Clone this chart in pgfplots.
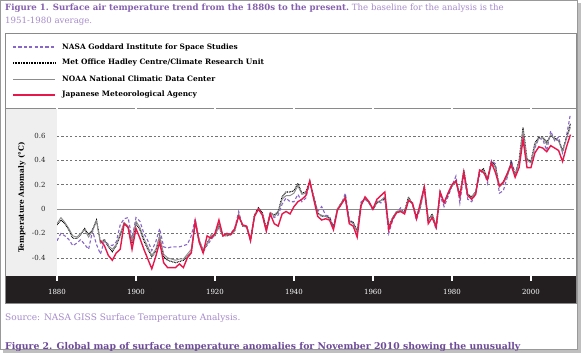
\documentclass[border=0pt]{standalone}
\usepackage{pgfplots}
\usepackage{pgfplotstable}
\pgfplotsset{compat=1.18}
\usepackage{fontspec}
\setmainfont{DejaVu Serif}
\definecolor{titlepurple}{HTML}{8560AE}
\definecolor{lightpurple}{HTML}{A68BCB}
\definecolor{darkpurple}{HTML}{6E4A9A}
\definecolor{nasa}{HTML}{8866C8}
\definecolor{noaa}{HTML}{8C8C8C}
\definecolor{jma}{HTML}{E8174B}
\definecolor{band}{HTML}{231F20}
\definecolor{panel}{HTML}{EFEFEF}
\definecolor{frame}{HTML}{8A8A8A}
\tikzset{
  nasastyle/.style={draw=nasa,line width=1.1pt,dash pattern=on 3.2pt off 2.2pt},
  hadstyle/.style={draw=black,line width=1.1pt,dash pattern=on 0.8pt off 0.8pt},
  noaastyle/.style={draw=noaa,line width=0.9pt},
  jmastyle/.style={draw=jma,line width=1.4pt},
}

\pgfplotstableread{
year val
1880 -0.26
1881 -0.20
1882 -0.22
1883 -0.25
1884 -0.30
1885 -0.28
1886 -0.25
1887 -0.29
1888 -0.33
1889 -0.18
1890 -0.29
1891 -0.37
1892 -0.26
1893 -0.29
1894 -0.30
1895 -0.27
1896 -0.13
1897 -0.08
1898 -0.07
1899 -0.24
1900 -0.07
1901 -0.10
1902 -0.20
1903 -0.26
1904 -0.34
1905 -0.27
1906 -0.16
1907 -0.31
1908 -0.32
1909 -0.31
1910 -0.31
1911 -0.31
1912 -0.30
1913 -0.29
1914 -0.22
1915 -0.08
1916 -0.26
1917 -0.33
1918 -0.30
1919 -0.25
1920 -0.21
1921 -0.15
1922 -0.22
1923 -0.21
1924 -0.20
1925 -0.16
1926 -0.02
1927 -0.14
1928 -0.14
1929 -0.26
1930 -0.06
1931 0.00
1932 -0.05
1933 -0.18
1934 -0.04
1935 -0.07
1936 -0.05
1937 0.04
1938 0.09
1939 0.06
1940 0.06
1941 0.12
1942 0.06
1943 0.09
1944 0.22
1945 0.10
1946 -0.02
1947 0.02
1948 -0.05
1949 -0.06
1950 -0.15
1951 -0.01
1952 0.04
1953 0.13
1954 -0.09
1955 -0.11
1956 -0.19
1957 0.06
1958 0.08
1959 0.05
1960 -0.01
1961 0.07
1962 0.05
1963 0.09
1964 -0.20
1965 -0.09
1966 -0.03
1967 0.01
1968 -0.04
1969 0.08
1970 0.04
1971 -0.09
1972 0.01
1973 0.16
1974 -0.09
1975 -0.06
1976 -0.17
1977 0.11
1978 0.02
1979 0.10
1980 0.19
1981 0.27
1982 0.05
1983 0.28
1984 0.08
1985 0.06
1986 0.13
1987 0.28
1988 0.32
1989 0.21
1990 0.40
1991 0.37
1992 0.13
1993 0.15
1994 0.26
1995 0.40
1996 0.29
1997 0.38
1998 0.60
1999 0.38
2000 0.38
2001 0.50
2002 0.58
2003 0.57
2004 0.48
2005 0.64
2006 0.56
2007 0.59
2008 0.46
2009 0.60
2010 0.78
}\nasatable

\pgfplotstableread{
year val
1880 -0.13
1881 -0.09
1882 -0.12
1883 -0.17
1884 -0.24
1885 -0.24
1886 -0.21
1887 -0.16
1888 -0.21
1889 -0.17
1890 -0.09
1891 -0.27
1892 -0.25
1893 -0.31
1894 -0.35
1895 -0.30
1896 -0.22
1897 -0.12
1898 -0.15
1899 -0.28
1900 -0.12
1901 -0.17
1902 -0.26
1903 -0.33
1904 -0.39
1905 -0.35
1906 -0.22
1907 -0.39
1908 -0.42
1909 -0.43
1910 -0.44
1911 -0.43
1912 -0.42
1913 -0.39
1914 -0.35
1915 -0.11
1916 -0.27
1917 -0.36
1918 -0.28
1919 -0.22
1920 -0.22
1921 -0.13
1922 -0.22
1923 -0.22
1924 -0.21
1925 -0.18
1926 -0.05
1927 -0.14
1928 -0.14
1929 -0.25
1930 -0.05
1931 0.01
1932 -0.03
1933 -0.16
1934 -0.03
1935 -0.05
1936 -0.02
1937 0.10
1938 0.14
1939 0.14
1940 0.15
1941 0.21
1942 0.13
1943 0.14
1944 0.23
1945 0.10
1946 -0.03
1947 -0.06
1948 -0.06
1949 -0.07
1950 -0.15
1951 0.00
1952 0.05
1953 0.10
1954 -0.10
1955 -0.11
1956 -0.18
1957 0.04
1958 0.09
1959 0.05
1960 0.00
1961 0.05
1962 0.07
1963 0.09
1964 -0.14
1965 -0.07
1966 -0.02
1967 -0.02
1968 -0.02
1969 0.10
1970 0.04
1971 -0.06
1972 0.02
1973 0.19
1974 -0.09
1975 -0.04
1976 -0.14
1977 0.14
1978 0.05
1979 0.12
1980 0.19
1981 0.23
1982 0.12
1983 0.32
1984 0.12
1985 0.10
1986 0.14
1987 0.31
1988 0.33
1989 0.25
1990 0.39
1991 0.35
1992 0.19
1993 0.22
1994 0.29
1995 0.38
1996 0.28
1997 0.40
1998 0.67
1999 0.41
2000 0.39
2001 0.54
2002 0.59
2003 0.59
2004 0.55
2005 0.60
2006 0.58
2007 0.56
2008 0.48
2009 0.58
2010 0.70
}\hadtable

\pgfplotstableread{
year val
1880 -0.12
1881 -0.07
1882 -0.11
1883 -0.16
1884 -0.22
1885 -0.23
1886 -0.20
1887 -0.17
1888 -0.23
1889 -0.18
1890 -0.10
1891 -0.28
1892 -0.26
1893 -0.30
1894 -0.33
1895 -0.29
1896 -0.20
1897 -0.11
1898 -0.14
1899 -0.26
1900 -0.10
1901 -0.15
1902 -0.24
1903 -0.31
1904 -0.38
1905 -0.33
1906 -0.22
1907 -0.37
1908 -0.40
1909 -0.41
1910 -0.42
1911 -0.41
1912 -0.41
1913 -0.37
1914 -0.33
1915 -0.10
1916 -0.25
1917 -0.34
1918 -0.29
1919 -0.21
1920 -0.22
1921 -0.14
1922 -0.22
1923 -0.21
1924 -0.21
1925 -0.17
1926 -0.04
1927 -0.14
1928 -0.15
1929 -0.25
1930 -0.06
1931 0.00
1932 -0.04
1933 -0.17
1934 -0.03
1935 -0.06
1936 -0.03
1937 0.08
1938 0.11
1939 0.11
1940 0.13
1941 0.19
1942 0.12
1943 0.13
1944 0.22
1945 0.10
1946 -0.04
1947 -0.05
1948 -0.06
1949 -0.08
1950 -0.16
1951 0.00
1952 0.05
1953 0.10
1954 -0.10
1955 -0.12
1956 -0.19
1957 0.04
1958 0.09
1959 0.05
1960 0.00
1961 0.06
1962 0.07
1963 0.10
1964 -0.15
1965 -0.07
1966 -0.02
1967 -0.01
1968 -0.03
1969 0.09
1970 0.04
1971 -0.07
1972 0.02
1973 0.18
1974 -0.09
1975 -0.05
1976 -0.14
1977 0.14
1978 0.05
1979 0.13
1980 0.19
1981 0.22
1982 0.10
1983 0.31
1984 0.11
1985 0.09
1986 0.14
1987 0.31
1988 0.32
1989 0.24
1990 0.38
1991 0.34
1992 0.18
1993 0.21
1994 0.27
1995 0.37
1996 0.28
1997 0.38
1998 0.64
1999 0.40
2000 0.38
2001 0.52
2002 0.58
2003 0.58
2004 0.53
2005 0.61
2006 0.57
2007 0.56
2008 0.47
2009 0.58
2010 0.67
}\noaatable

\pgfplotstableread{
year val
1891 -0.26
1892 -0.30
1893 -0.38
1894 -0.42
1895 -0.36
1896 -0.33
1897 -0.12
1898 -0.15
1899 -0.33
1900 -0.16
1901 -0.24
1902 -0.33
1903 -0.41
1904 -0.49
1905 -0.39
1906 -0.27
1907 -0.44
1908 -0.48
1909 -0.48
1910 -0.48
1911 -0.45
1912 -0.48
1913 -0.40
1914 -0.36
1915 -0.10
1916 -0.27
1917 -0.36
1918 -0.22
1919 -0.24
1920 -0.20
1921 -0.09
1922 -0.22
1923 -0.20
1924 -0.21
1925 -0.16
1926 -0.06
1927 -0.13
1928 -0.14
1929 -0.26
1930 -0.06
1931 0.00
1932 -0.05
1933 -0.18
1934 -0.04
1935 -0.12
1936 -0.14
1937 -0.04
1938 -0.02
1939 -0.04
1940 0.02
1941 0.06
1942 0.08
1943 0.11
1944 0.23
1945 0.08
1946 -0.06
1947 -0.09
1948 -0.08
1949 -0.09
1950 -0.17
1951 -0.01
1952 0.04
1953 0.09
1954 -0.12
1955 -0.14
1956 -0.23
1957 0.03
1958 0.10
1959 0.06
1960 0.00
1961 0.08
1962 0.11
1963 0.14
1964 -0.17
1965 -0.08
1966 -0.03
1967 -0.02
1968 -0.04
1969 0.07
1970 0.05
1971 -0.08
1972 0.05
1973 0.18
1974 -0.12
1975 -0.07
1976 -0.15
1977 0.14
1978 0.05
1979 0.13
1980 0.20
1981 0.23
1982 0.10
1983 0.30
1984 0.11
1985 0.08
1986 0.12
1987 0.32
1988 0.30
1989 0.24
1990 0.38
1991 0.30
1992 0.19
1993 0.22
1994 0.29
1995 0.36
1996 0.26
1997 0.34
1998 0.57
1999 0.34
2000 0.34
2001 0.46
2002 0.51
2003 0.50
2004 0.47
2005 0.52
2006 0.50
2007 0.48
2008 0.39
2009 0.51
2010 0.61
}\jmatable

\begin{document}
\begin{tikzpicture}[x=1pt,y=1pt]
\clip (0,0) rectangle (581,353);
\fill[white] (0,0) rectangle (581,353);
% outer image frame with shadow
\fill[black!25] (3,0) rectangle (581,350);
\fill[white] (0,3) rectangle (578,353);
\draw[black!40,line width=0.6pt] (0.3,3.3) rectangle (577.7,352.7);
% title
\node[anchor=base west,inner sep=0pt,font=\fontsize{8.6}{10}\selectfont,text=titlepurple] at (5,342)
 {\textbf{Figure 1. Surface air temperature trend from the 1880s to the present.}\ \textcolor{lightpurple}{The baseline for the analysis is the}};
\node[anchor=base west,inner sep=0pt,font=\fontsize{8.6}{10}\selectfont,text=lightpurple] at (5,329) {1951-1980 average.};
% chart box parts
\fill[panel] (5,77) rectangle (57,244);
\fill[band] (5,50) rectangle (576,77);
\draw[frame,line width=0.7pt] (5,50) rectangle (576,320);
\draw[frame,line width=0.7pt] (5,244.5) -- (576,244.5);
% legend
\begin{scope}[every node/.style={anchor=west,inner sep=0pt,font=\bfseries\fontsize{7.4}{8}\selectfont}]
\draw[nasastyle] (13,306) -- (55,306); \node at (62,306) {NASA Goddard Institute for Space Studies};
\draw[hadstyle] (13,290) -- (55,290); \node at (62,290) {Met Office Hadley Centre/Climate Research Unit};
\draw[noaastyle] (13,274) -- (55,274); \node at (62,274) {NOAA National Climatic Data Center};
\draw[jmastyle] (13,258) -- (55,258); \node at (62,258) {Japanese Meteorological Agency};
\end{scope}
% source and figure 2
\node[anchor=base west,inner sep=0pt,font=\fontsize{9}{10}\selectfont,text=lightpurple] at (5,32) {Source: NASA GISS Surface Temperature Analysis.};
\node[anchor=base west,inner sep=0pt,font=\bfseries\fontsize{9.3}{10}\selectfont,text=darkpurple] at (5,3.5) {Figure 2. Global map of surface temperature anomalies for November 2010 showing the unusually};
\begin{axis}[
  at={(57pt,77pt)}, anchor=south west,
  width=517pt, height=167pt, scale only axis,
  xmin=1880, xmax=2010.9, ymin=-0.549, ymax=0.82,
  axis line style={draw=none},
  xtick={1880,1900,...,2000},
  xtick style={white,line width=1.3pt},
  major tick length=5pt,
  tick align=outside,
  xticklabel style={font=\fontsize{7}{8}\selectfont,text=white,yshift=-5pt},
  x tick label style={/pgf/number format/1000 sep={}},
  ytick={-0.4,-0.2,0.2,0.4,0.6},
  ytick style={draw=none},
  yticklabel style={font=\fontsize{7}{8}\selectfont,text=black!85,xshift=-3pt,
    /pgf/number format/.cd,fixed,fixed zerofill,precision=1},
  extra y ticks={0},
  extra y tick labels={0},
  extra y tick style={ymajorgrids=true, major grid style={solid,black!45,line width=0.9pt}},
  ymajorgrids=true,
  major grid style={black!55,line width=0.6pt,dash pattern=on 2.2pt off 2.2pt},
  /pgf/number format/assume math mode=true,
  ylabel={\textbf{Temperature Anomaly (°C)}},
  ylabel style={at={(axis description cs:-0.0677,0.47)},anchor=center,font=\fontsize{7.4}{8}\selectfont},
  clip=true,
]
\addplot[nasastyle] table[x=year,y=val] {\nasatable};
\addplot[hadstyle] table[x=year,y=val] {\hadtable};
\addplot[noaastyle] table[x=year,y=val] {\noaatable};
\addplot[jmastyle] table[x=year,y=val] {\jmatable};
\end{axis}
\end{tikzpicture}
\end{document}
